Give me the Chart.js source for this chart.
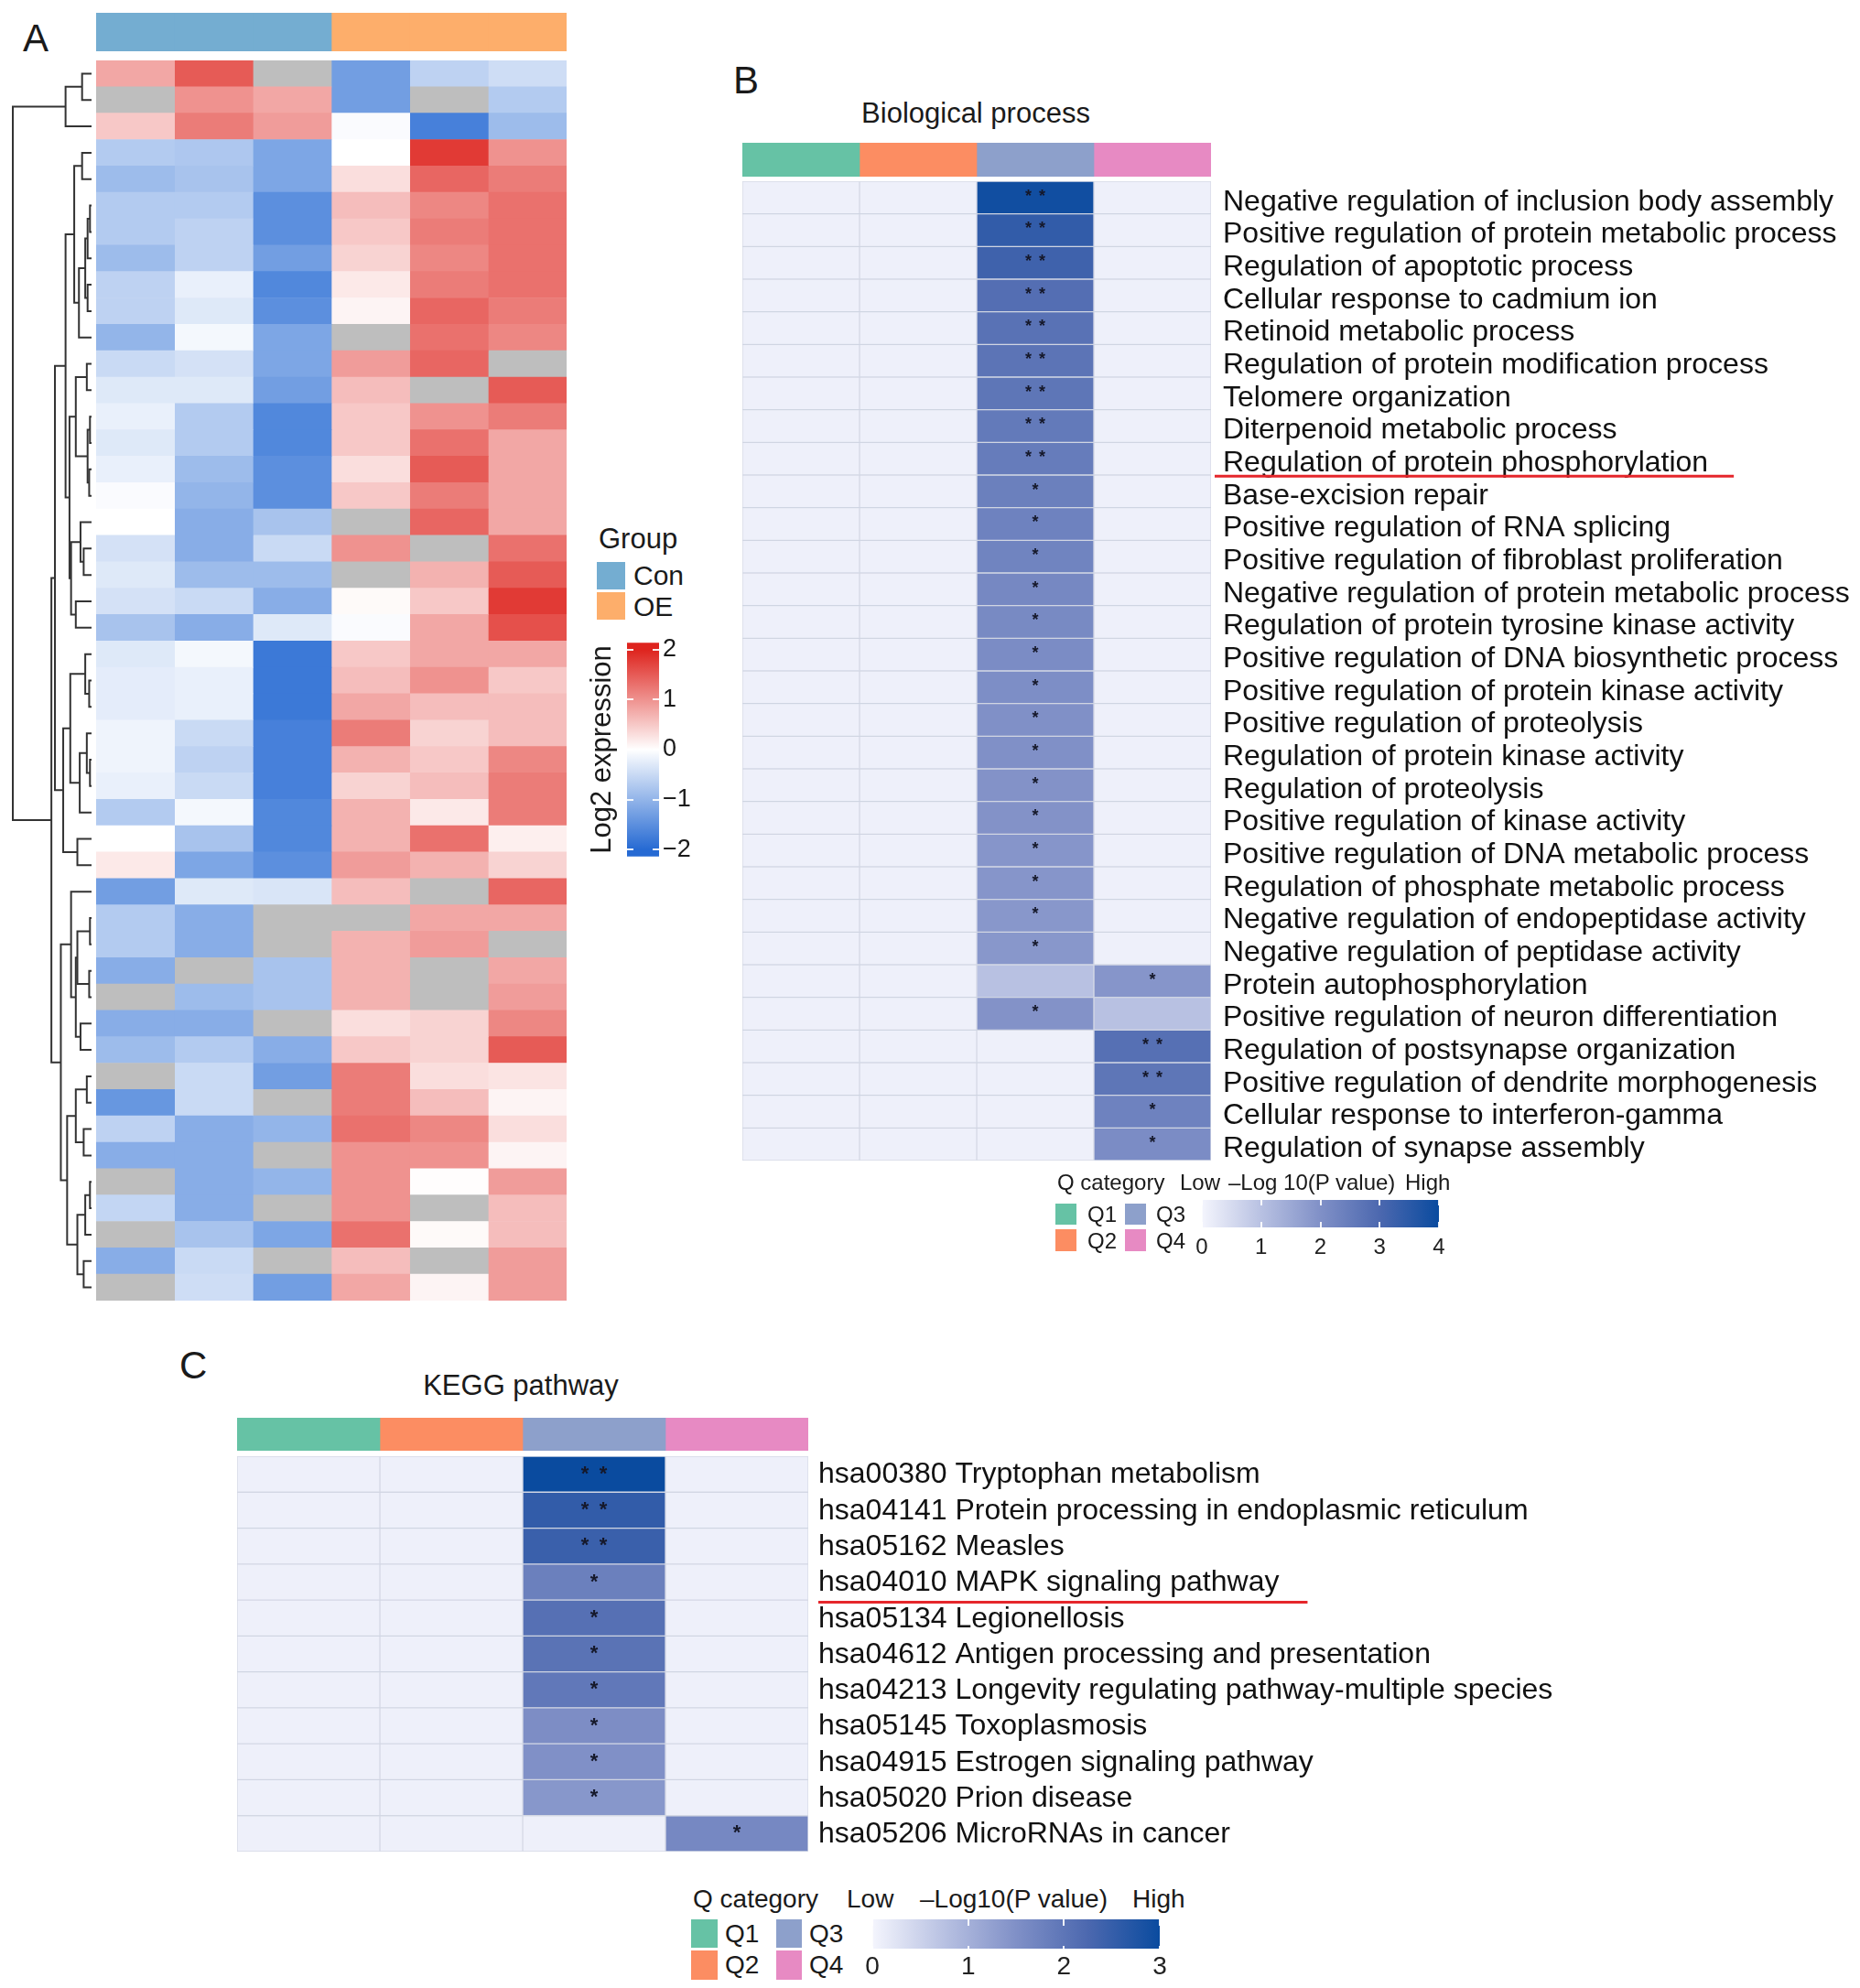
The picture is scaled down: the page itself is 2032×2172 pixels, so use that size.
<!DOCTYPE html>
<html>
<head>
<meta charset="utf-8">
<script src="https://cdn.jsdelivr.net/npm/chart.js@4.4.1/dist/chart.umd.min.js"></script>
<style>
  html, body { margin: 0; padding: 0; background: #fff; }
  #fig { position: relative; width: 2032px; height: 2172px; overflow: hidden;
         font-family: "Liberation Sans", Arial, Helvetica, sans-serif; color: #1a1a1a; }
  .t { position: absolute; white-space: nowrap; line-height: 1; }
</style>
</head>
<body>
<div id="fig"></div>
<script>
// ---------- panel A: log2 expression, 47 genes x 6 samples (null = missing) ----------
const samples = ["Con1", "Con2", "Con3", "OE1", "OE2", "OE3"];
const sampleGroup = ["Con", "Con", "Con", "OE", "OE", "OE"];
const con1 = [0.8, null, 0.5, -0.7, -0.9, -0.7, -0.7, -0.9, -0.6, -0.6, -1.0, -0.5, -0.3, -0.2, -0.3, -0.2, -0.05, 0.0, -0.4, -0.3, -0.4, -0.8, -0.3, -0.25, -0.25, -0.15, -0.15, -0.2, -0.7, 0.0, 0.2, -1.3, -0.7, -0.7, -1.1, null, -1.1, -0.9, null, -1.4, -0.6, -1.1, null, -0.55, null, -1.1, null];
const con2 = [1.5, 1.0, 1.2, -0.75, -0.8, -0.7, -0.6, -0.6, -0.2, -0.3, -0.1, -0.4, -0.3, -0.7, -0.7, -0.9, -1.0, -1.1, -1.1, -0.9, -0.5, -1.1, -0.1, -0.2, -0.2, -0.5, -0.6, -0.5, -0.1, -0.8, -1.2, -0.3, -1.1, -1.1, null, -0.9, -1.1, -0.7, -0.5, -0.5, -1.1, -1.1, -1.1, -1.1, -0.8, -0.5, -0.45];
const con3 = [null, 0.8, 0.9, -1.2, -1.2, -1.5, -1.5, -1.3, -1.6, -1.5, -1.2, -1.2, -1.3, -1.6, -1.6, -1.5, -1.5, -0.8, -0.5, -0.9, -1.1, -0.3, -1.8, -1.8, -1.8, -1.7, -1.7, -1.7, -1.6, -1.6, -1.5, -0.35, null, null, -0.8, -0.8, null, -1.1, -1.3, null, -1.0, null, -1.0, null, -1.2, null, -1.3];
const oe1 = [-1.3, -1.3, -0.05, 0.0, 0.3, 0.6, 0.5, 0.4, 0.2, 0.1, null, 0.9, 0.6, 0.5, 0.5, 0.3, 0.5, null, 1.0, null, 0.05, -0.05, 0.5, 0.6, 0.8, 1.2, 0.7, 0.4, 0.7, 0.7, 0.9, 0.6, null, 0.7, 0.7, 0.7, 0.3, 0.5, 1.2, 1.2, 1.3, 1.0, 1.0, 1.0, 1.3, 0.6, 0.8];
const oe2 = [-0.6, null, -1.7, 1.8, 1.4, 1.1, 1.2, 1.1, 1.2, 1.4, 1.3, 1.4, null, 1.0, 1.3, 1.5, 1.2, 1.4, null, 0.7, 0.5, 0.8, 0.8, 1.0, 0.6, 0.4, 0.5, 0.6, 0.2, 1.3, 0.7, null, 0.8, 0.9, null, null, 0.4, 0.4, 0.3, 0.6, 1.1, 1.0, 0.02, null, 0.05, null, 0.1];
const oe3 = [-0.45, -0.7, -0.9, 1.0, 1.2, 1.3, 1.3, 1.3, 1.3, 1.2, 1.1, null, 1.5, 1.2, 0.8, 0.8, 0.8, 0.8, 1.3, 1.5, 1.8, 1.6, 0.8, 0.5, 0.6, 0.6, 1.1, 1.2, 1.2, 0.15, 0.4, 1.4, 0.8, null, 0.8, 0.9, 1.1, 1.5, 0.25, 0.1, 0.3, 0.1, 0.9, 0.6, 0.6, 0.9, 0.9];
// row clustering: [left, right, height], leaves = row index
const dendro = [
  [[0, 1, 0.12], 2, 0.33],
  [
    [
      [
        [[3, 4, 0.12], [[[[5, 6, 0.02], 7, 0.05], [8, 9, 0.05], 0.08], 10, 0.16], 0.22],
        [[[11, 12, 0.06], [[13, 14, 0.02], [15, 16, 0.03], 0.05], 0.2], [[17, [18, 19, 0.1], 0.14], [20, 21, 0.2], 0.26], 0.28],
        0.33],
      [[[22, [23, 24, 0.03], 0.08], [[25, [26, 27, 0.02], 0.06], 28, 0.15], 0.27], [29, 30, 0.18], 0.36],
      0.465],
    [
      [31, [[[32, 33, 0.02], [34, 35, 0.03], 0.18], [36, 37, 0.14], 0.2], 0.26],
      [[[38, 39, 0.06], [40, 41, 0.1], 0.2], [[[42, 43, 0.02], 44, 0.08], [45, 46, 0.1], 0.18], 0.31],
      0.39],
    0.51],
  1.0];
const exprTicks = [2, 1, 0, -1, -2];

// ---------- panel B: GO biological process, -log10(P) per Q category ----------
const qCats = ["Q1", "Q2", "Q3", "Q4"];
const bpTerms = [
  "Negative regulation of inclusion body assembly",
  "Positive regulation of protein metabolic process",
  "Regulation of apoptotic process",
  "Cellular response to cadmium ion",
  "Retinoid metabolic process",
  "Regulation of protein modification process",
  "Telomere organization",
  "Diterpenoid metabolic process",
  "Regulation of protein phosphorylation",
  "Base-excision repair",
  "Positive regulation of RNA splicing",
  "Positive regulation of fibroblast proliferation",
  "Negative regulation of protein metabolic process",
  "Regulation of protein tyrosine kinase activity",
  "Positive regulation of DNA biosynthetic process",
  "Positive regulation of protein kinase activity",
  "Positive regulation of proteolysis",
  "Regulation of protein kinase activity",
  "Regulation of proteolysis",
  "Positive regulation of kinase activity",
  "Positive regulation of DNA metabolic process",
  "Regulation of phosphate metabolic process",
  "Negative regulation of endopeptidase activity",
  "Negative regulation of peptidase activity",
  "Protein autophosphorylation",
  "Positive regulation of neuron differentiation",
  "Regulation of postsynapse organization",
  "Positive regulation of dendrite morphogenesis",
  "Cellular response to interferon-gamma",
  "Regulation of synapse assembly"
];
const bpQ1 = [0.1, 0.1, 0.1, 0.1, 0.1, 0.1, 0.1, 0.1, 0.1, 0.1, 0.1, 0.1, 0.1, 0.1, 0.1, 0.1, 0.1, 0.1, 0.1, 0.1, 0.1, 0.1, 0.1, 0.1, 0.1, 0.1, 0.1, 0.1, 0.1, 0.1];
const bpQ2 = [0.1, 0.1, 0.1, 0.1, 0.1, 0.1, 0.1, 0.1, 0.1, 0.1, 0.1, 0.1, 0.1, 0.1, 0.1, 0.1, 0.1, 0.1, 0.1, 0.1, 0.1, 0.1, 0.1, 0.1, 0.1, 0.1, 0.1, 0.1, 0.1, 0.1];
const bpQ3 = [3.9, 3.4, 3.2, 2.85, 2.75, 2.7, 2.65, 2.55, 2.5, 2.4, 2.35, 2.3, 2.2, 2.15, 2.1, 2.05, 2.0, 2.0, 1.95, 1.95, 1.9, 1.9, 1.85, 1.85, 1.0, 1.95, 0.1, 0.1, 0.1, 0.1];
const bpQ4 = [0.1, 0.1, 0.1, 0.1, 0.1, 0.1, 0.1, 0.1, 0.1, 0.1, 0.1, 0.1, 0.1, 0.1, 0.1, 0.1, 0.1, 0.1, 0.1, 0.1, 0.1, 0.1, 0.1, 0.1, 1.9, 1.0, 2.8, 2.65, 2.35, 2.1];
const bpStarsQ3 = ["**", "**", "**", "**", "**", "**", "**", "**", "**", "*", "*", "*", "*", "*", "*", "*", "*", "*", "*", "*", "*", "*", "*", "*", "", "*", "", "", "", ""];
const bpStarsQ4 = ["", "", "", "", "", "", "", "", "", "", "", "", "", "", "", "", "", "", "", "", "", "", "", "", "*", "", "**", "**", "*", "*"];
const bpTicks = [0, 1, 2, 3, 4];

// ---------- panel C: KEGG pathways ----------
const kgTerms = [
  "hsa00380 Tryptophan metabolism",
  "hsa04141 Protein processing in endoplasmic reticulum",
  "hsa05162 Measles",
  "hsa04010 MAPK signaling pathway",
  "hsa05134 Legionellosis",
  "hsa04612 Antigen processing and presentation",
  "hsa04213 Longevity regulating pathway-multiple species",
  "hsa05145 Toxoplasmosis",
  "hsa04915 Estrogen signaling pathway",
  "hsa05020 Prion disease",
  "hsa05206 MicroRNAs in cancer"
];
const kgQ1 = [0.075, 0.075, 0.075, 0.075, 0.075, 0.075, 0.075, 0.075, 0.075, 0.075, 0.075];
const kgQ2 = [0.075, 0.075, 0.075, 0.075, 0.075, 0.075, 0.075, 0.075, 0.075, 0.075, 0.075];
const kgQ3 = [3.0, 2.55, 2.45, 1.8, 2.1, 2.05, 1.95, 1.55, 1.5, 1.4, 0.075];
const kgQ4 = [0.075, 0.075, 0.075, 0.075, 0.075, 0.075, 0.075, 0.075, 0.075, 0.075, 1.65];
const kgStarsQ3 = ["**", "**", "**", "*", "*", "*", "*", "*", "*", "*", ""];
const kgStarsQ4 = ["", "", "", "", "", "", "", "", "", "", "*"];
const kgTicks = [0, 1, 2, 3];

// ---------- colours ----------
const groupColors = { Con: "#74ADD1", OE: "#FDAE6B" };
const qColors = ["#66C2A5", "#FC8D62", "#8DA0CB", "#E78AC3"];
const exprStops = [[0, "#266AD3"], [0.5, "#FFFFFF"], [1, "#DE241E"]];
const pStops = [[0, "#F4F5FD"], [0.25, "#B8C1E2"], [0.5, "#8090C7"], [0.75, "#4C68AF"], [1, "#0A4B9F"]];
const naColor = "#BEBEBE";
const cellLine = "rgba(200,205,222,0.75)";

function hex(c) { return [1, 3, 5].map(i => parseInt(c.slice(i, i + 2), 16)); }
function ramp(stops, t) {
  t = Math.max(0, Math.min(1, t));
  for (let i = 1; i < stops.length; i++) {
    if (t <= stops[i][0]) {
      const [p0, c0] = stops[i - 1], [p1, c1] = stops[i];
      const f = (t - p0) / (p1 - p0), a = hex(c0), b = hex(c1);
      return "rgb(" + a.map((v, k) => Math.round(v + (b[k] - v) * f)).join(",") + ")";
    }
  }
  return stops[stops.length - 1][1];
}
const exprColor = v => v === null ? naColor : ramp(exprStops, (v + 2) / 4);
const minus = v => String(v).replace("-", "\u2212");

Chart.defaults.font.family = '"Liberation Sans", Arial, Helvetica, sans-serif';
Chart.defaults.color = "#1a1a1a";
Chart.defaults.animation = false;
Chart.defaults.responsive = true;
Chart.defaults.maintainAspectRatio = false;
Chart.defaults.plugins.legend.display = false;
Chart.defaults.plugins.tooltip.enabled = false;

const fig = document.getElementById("fig");
function addBox(x, y, w, h) {
  const d = document.createElement("div");
  d.style.cssText = `position:absolute;left:${x}px;top:${y}px;width:${w}px;height:${h}px;`;
  const c = document.createElement("canvas");
  d.appendChild(c);
  fig.appendChild(d);
  return c;
}
function addText(str, x, cy, size, center) {
  const d = document.createElement("div");
  d.className = "t";
  d.textContent = str;
  d.style.fontSize = size + "px";
  d.style.left = x + "px";
  d.style.top = (cy - 0.49 * size) + "px";
  if (center) d.style.transform = "translateX(-50%)";
  fig.appendChild(d);
}
function addSwatch(color, x0, y0, x1, y1) {
  const d = document.createElement("div");
  d.style.cssText = `position:absolute;left:${x0}px;top:${y0}px;width:${x1 - x0}px;height:${y1 - y0}px;background:${color};`;
  fig.appendChild(d);
}

// significance stars drawn on the cells
const starPlugin = {
  id: "stars",
  afterDatasetsDraw(chart, args, o) {
    const ctx = chart.ctx;
    ctx.save();
    ctx.font = `bold ${o.size}px "Liberation Sans", Arial, sans-serif`;
    ctx.fillStyle = "#15182a";
    ctx.textAlign = "center";
    ctx.textBaseline = "middle";
    chart.data.datasets.forEach((ds, di) => {
      if (!ds.stars) return;
      chart.getDatasetMeta(di).data.forEach((el, i) => {
        const s = ds.stars[i];
        if (!s) return;
        const cx = (el.x + el.base) / 2;
        for (let k = 0; k < s.length; k++) {
          ctx.fillText("*", cx + (k - (s.length - 1) / 2) * o.gap, el.y - o.lift);
        }
      });
    });
    ctx.restore();
  }
};
// red line under one row label
const underlinePlugin = {
  id: "underline",
  afterDraw(chart, args, o) {
    if (o.index === undefined) return;
    const y = chart.scales.y, ctx = chart.ctx;
    const f = y.options.ticks.font;
    ctx.save();
    ctx.font = `${f.size}px "Liberation Sans", Arial, sans-serif`;
    const w = ctx.measureText(chart.data.labels[o.index]).width;
    const x0 = chart.chartArea.right + y.options.ticks.padding;
    const py = y.getPixelForValue(o.index) + o.dy;
    ctx.strokeStyle = o.color;
    ctx.lineWidth = o.width;
    ctx.beginPath();
    ctx.moveTo(x0 - o.before, py);
    ctx.lineTo(x0 + w + o.after, py);
    ctx.stroke();
    ctx.restore();
  }
};
function gradientFill(stops, axis, lo, hi) {
  return c => {
    const chart = c.chart, sc = chart.scales[axis];
    if (!sc || !chart.chartArea) return stops[0][1];
    const a = sc.getPixelForValue(lo), b = sc.getPixelForValue(hi);
    const g = axis === "x" ? chart.ctx.createLinearGradient(a, 0, b, 0) : chart.ctx.createLinearGradient(0, a, 0, b);
    stops.forEach(([p, col]) => g.addColorStop(p, col));
    return g;
  };
}
const cellSet = { grouped: false, barPercentage: 1, categoryPercentage: 1 };

// ================= Panel A =================
addText("A", 25, 42, 42);
const aCols = [con1, con2, con3, oe1, oe2, oe3];

// group annotation bar
new Chart(addBox(105, 14, 514, 42), {
  type: "bar",
  data: {
    labels: ["Group"],
    datasets: samples.map((s, j) => ({ label: s, data: [[j, j + 1]], backgroundColor: groupColors[sampleGroup[j]], ...cellSet }))
  },
  options: { indexAxis: "y", scales: { x: { display: false, min: 0, max: 6 }, y: { display: false } } }
});

// expression cells
new Chart(addBox(105, 66, 514, 1355), {
  type: "bar",
  data: {
    labels: con1.map((_, i) => "gene" + (i + 1)),
    datasets: aCols.map((vals, j) => ({ label: samples[j], data: vals.map(() => [j, j + 1]), backgroundColor: vals.map(exprColor), ...cellSet }))
  },
  options: { indexAxis: "y", scales: { x: { display: false, min: 0, max: 6 }, y: { display: false } } }
});

// dendrogram
const links = [];
function walk(n) {
  if (typeof n === "number") return { y: n + 0.5, h: 0 };
  const a = walk(n[0]), b = walk(n[1]);
  links.push([{ x: a.h, y: a.y }, { x: n[2], y: a.y }, { x: n[2], y: b.y }, { x: b.h, y: b.y }]);
  return { y: (a.y + b.y) / 2, h: n[2] };
}
walk(dendro);
new Chart(addBox(8, 66, 97, 1355), {
  type: "scatter",
  data: {
    datasets: links.map(pts => ({ data: pts, showLine: true, pointRadius: 0, borderColor: "#333", borderWidth: 2, tension: 0 }))
  },
  options: {
    scales: {
      x: { display: false, min: -0.0581, max: 1.0698, reverse: true },
      y: { display: false, min: 0, max: con1.length, reverse: true }
    }
  }
});

// legend A
addText("Group", 654, 588, 31);
addSwatch(groupColors.Con, 652, 614, 683, 644);
addSwatch(groupColors.OE, 652, 647, 683, 677);
addText("Con", 692, 629, 30);
addText("OE", 692, 663, 30);
new Chart(addBox(640, 682, 135, 274), {
  type: "bar",
  data: { labels: [""], datasets: [{ data: [[-2.14, 2.14]], backgroundColor: gradientFill(exprStops, "y", -2, 2), ...cellSet }] },
  options: {
    layout: { padding: { top: 16, bottom: 16 } },
    scales: {
      x: { display: false },
      y: {
        position: "right", min: -2.14, max: 2.14,
        afterBuildTicks: a => { a.ticks = exprTicks.map(v => ({ value: v })); },
        afterFit: a => { a.width = 55; },
        ticks: { padding: 4, font: { size: 27 }, color: "#1a1a1a", callback: v => minus(v) },
        grid: { color: "rgba(255,255,255,0.9)", lineWidth: 2, drawTicks: false, z: 1 },
        border: { display: false, dash: [7, 21] }
      },
      yt: {
        position: "left", min: 0, max: 1,
        afterFit: a => { a.width = 45; },
        ticks: { display: false }, grid: { display: false, drawTicks: false }, border: { display: false },
        title: { display: true, text: "Log2 expression", font: { size: 31 }, color: "#1a1a1a", padding: 0 }
      }
    }
  }
});

// ================= Panel B =================
addText("B", 801, 88, 42);
addText("Biological process", 1066, 123, 31, true);
new Chart(addBox(811, 156, 512, 37), {
  type: "bar",
  data: { labels: [""], datasets: qCats.map((q, j) => ({ label: q, data: [[j, j + 1]], backgroundColor: qColors[j], ...cellSet })) },
  options: { indexAxis: "y", scales: { x: { display: false, min: 0, max: 4 }, y: { display: false } } }
});
const bpCols = [bpQ1, bpQ2, bpQ3, bpQ4];
const bpStars = [null, null, bpStarsQ3, bpStarsQ4];
const bpMax = bpTicks[bpTicks.length - 1];
new Chart(addBox(811, 168, 1221, 1130), {
  type: "bar",
  data: {
    labels: bpTerms,
    datasets: bpCols.map((vals, j) => ({
      label: qCats[j], data: vals.map(() => [j, j + 1]),
      backgroundColor: vals.map(v => ramp(pStops, v / bpMax)),
      borderColor: cellLine, borderWidth: 1, borderSkipped: false,
      stars: bpStars[j], ...cellSet
    }))
  },
  options: {
    indexAxis: "y",
    layout: { padding: { top: 30, bottom: 30 } },
    scales: {
      x: { display: false, min: 0, max: 4 },
      y: {
        position: "right", grid: { display: false, drawTicks: false }, border: { display: false },
        ticks: { autoSkip: false, padding: 13, labelOffset: 5, color: "#111", font: { size: 32, lineHeight: 1 } },
        afterFit: a => { a.width = 709; }
      }
    },
    plugins: {
      stars: { size: 18, gap: 15, lift: 1 },
      underline: { index: 8, dy: 19, before: 9, after: 28, color: "#E5262B", width: 3 }
    }
  },
  plugins: [starPlugin, underlinePlugin]
});
// legend B
addText("Q category", 1155, 1292, 24);
addText("Low", 1289, 1292, 24);
addText("\u2013Log 10(P value)", 1342, 1292, 24);
addText("High", 1535, 1292, 24);
addSwatch(qColors[0], 1153, 1315, 1176, 1338);
addSwatch(qColors[1], 1153, 1343, 1176, 1367);
addSwatch(qColors[2], 1229, 1315, 1252, 1338);
addSwatch(qColors[3], 1229, 1343, 1252, 1367);
addText("Q1", 1188, 1327, 24);
addText("Q2", 1188, 1356, 24);
addText("Q3", 1263, 1327, 24);
addText("Q4", 1263, 1356, 24);
new Chart(addBox(1293, 1307, 299, 74), {
  type: "bar",
  data: { labels: [""], datasets: [{ data: [[0, bpMax]], backgroundColor: gradientFill(pStops, "x", 0, bpMax), ...cellSet }] },
  options: {
    indexAxis: "y",
    layout: { padding: { left: 20, right: 20, top: 4 } },
    scales: {
      y: { display: false },
      x: {
        min: 0, max: bpMax,
        afterBuildTicks: a => { a.ticks = bpTicks.map(v => ({ value: v })); },
        afterFit: a => { a.height = 40; },
        ticks: { padding: 8, font: { size: 24 }, color: "#222" },
        grid: { color: "rgba(255,255,255,0.9)", lineWidth: 2, drawTicks: false, z: 1 },
        border: { display: false, dash: [6, 18] }
      }
    }
  }
});

// ================= Panel C =================
addText("C", 196, 1492, 42);
addText("KEGG pathway", 569, 1513, 31, true);
new Chart(addBox(259, 1549, 624, 36), {
  type: "bar",
  data: { labels: [""], datasets: qCats.map((q, j) => ({ label: q, data: [[j, j + 1]], backgroundColor: qColors[j], ...cellSet })) },
  options: { indexAxis: "y", scales: { x: { display: false, min: 0, max: 4 }, y: { display: false } } }
});
const kgCols = [kgQ1, kgQ2, kgQ3, kgQ4];
const kgStars = [null, null, kgStarsQ3, kgStarsQ4];
const kgMax = kgTicks[kgTicks.length - 1];
new Chart(addBox(259, 1561, 1773, 492), {
  type: "bar",
  data: {
    labels: kgTerms,
    datasets: kgCols.map((vals, j) => ({
      label: qCats[j], data: vals.map(() => [j, j + 1]),
      backgroundColor: vals.map(v => ramp(pStops, v / kgMax)),
      borderColor: cellLine, borderWidth: 1, borderSkipped: false,
      stars: kgStars[j], ...cellSet
    }))
  },
  options: {
    indexAxis: "y",
    layout: { padding: { top: 30, bottom: 30 } },
    scales: {
      x: { display: false, min: 0, max: 4 },
      y: {
        position: "right", grid: { display: false, drawTicks: false }, border: { display: false },
        ticks: { autoSkip: false, padding: 11, labelOffset: 1, color: "#111", font: { size: 32, lineHeight: 1 } },
        afterFit: a => { a.width = 1149; }
      }
    },
    plugins: {
      stars: { size: 22, gap: 20, lift: 0 },
      underline: { index: 3, dy: 22, before: 0, after: 31, color: "#E5262B", width: 3 }
    }
  },
  plugins: [starPlugin, underlinePlugin]
});
// legend C
addText("Q category", 757, 2075, 28);
addText("Low", 925, 2075, 28);
addText("\u2013Log10(P value)", 1005, 2075, 28);
addText("High", 1237, 2075, 28);
addSwatch(qColors[0], 755, 2097, 784, 2128);
addSwatch(qColors[1], 755, 2131, 784, 2163);
addSwatch(qColors[2], 848, 2097, 876, 2128);
addSwatch(qColors[3], 848, 2131, 876, 2163);
addText("Q1", 792, 2113, 28);
addText("Q2", 792, 2147, 28);
addText("Q3", 884, 2113, 28);
addText("Q4", 884, 2147, 28);
new Chart(addBox(933, 2093, 354, 79), {
  type: "bar",
  data: { labels: [""], datasets: [{ data: [[0, kgMax]], backgroundColor: gradientFill(pStops, "x", 0, kgMax), ...cellSet }] },
  options: {
    indexAxis: "y",
    layout: { padding: { left: 20, right: 20, top: 4 } },
    scales: {
      y: { display: false },
      x: {
        min: 0, max: kgMax,
        afterBuildTicks: a => { a.ticks = kgTicks.map(v => ({ value: v })); },
        afterFit: a => { a.height = 43; },
        ticks: { padding: 3, font: { size: 28 }, color: "#222" },
        grid: { color: "rgba(255,255,255,0.9)", lineWidth: 2, drawTicks: false, z: 1 },
        border: { display: false, dash: [7, 22] }
      }
    }
  }
});
</script>
</body>
</html>
